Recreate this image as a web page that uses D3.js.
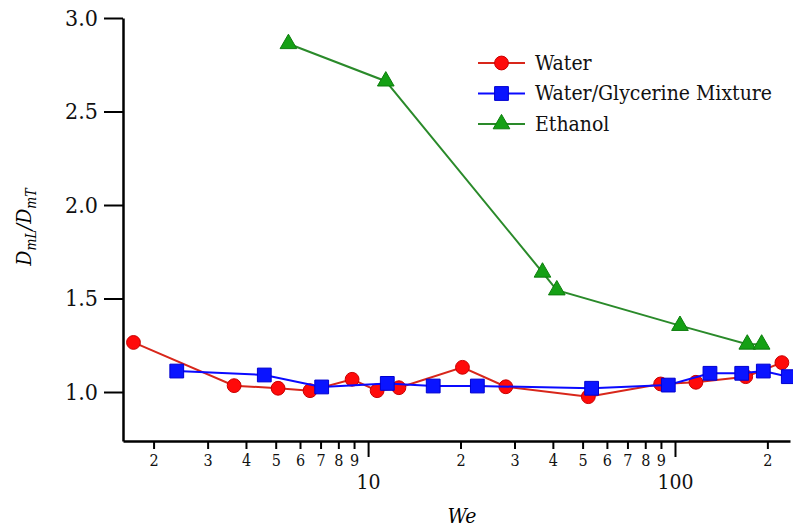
<!DOCTYPE html>
<html>
<head>
<meta charset="utf-8">
<script src="https://cdn.jsdelivr.net/npm/d3@7"></script>
<style>
  body { margin: 0; background: #fff; }
</style>
</head>
<body>
<div id="chart"></div>
<script>
"use strict";

// series: We number vs D_mL/D_mT
var waterWe   = [1.72, 3.66, 5.09, 6.47, 8.87, 10.7, 12.6, 20.3, 28.1, 52.2, 89.8, 117, 170, 223];
var waterD    = [1.265, 1.034, 1.02, 1.007, 1.068, 1.007, 1.023, 1.132, 1.028, 0.975, 1.043, 1.052, 1.082, 1.157];

var glycWe    = [2.38, 4.59, 7.06, 11.55, 16.3, 22.7, 53.5, 95.1, 130, 165, 194, 234];
var glycD     = [1.112, 1.091, 1.027, 1.046, 1.032, 1.032, 1.02, 1.037, 1.1, 1.1, 1.112, 1.082];

var ethWe     = [5.5, 11.42, 37.0, 41.2, 103.8, 172, 191.6];
var ethD      = [2.862, 2.662, 1.64, 1.545, 1.355, 1.255, 1.255];

var seriesNames = ["Water", "Water/Glycerine Mixture", "Ethanol"];
var yTicks = [1.0, 1.5, 2.0, 2.5, 3.0];
var xMinorTicks = [2, 3, 4, 5, 6, 7, 8, 9, 20, 30, 40, 50, 60, 70, 80, 90, 200];
var xMajorTicks = [10, 100];

(function () {
var width = 793, height = 531;
var plotLeft = 123, plotRight = 790, plotTop = 18, plotBottom = 441;
var serif = "DejaVu Serif Condensed, DejaVu Serif, serif";

var svg = d3.select("#chart").append("svg")
    .attr("width", width)
    .attr("height", height);

var x = d3.scaleLog().domain([1.59, 237]).range([plotLeft, plotRight]);
var y = d3.scaleLinear().domain([0.738, 3.0]).range([plotBottom, plotTop]);

// ------- axes
var yAxis = svg.append("g")
    .attr("transform", "translate(" + plotLeft + ",0)")
    .call(d3.axisLeft(y).tickValues(yTicks).tickFormat(d3.format(".1f"))
        .tickSize(19).tickSizeOuter(0).tickPadding(6));
yAxis.selectAll("text").attr("font-size", 23);

var xMinor = svg.append("g")
    .attr("transform", "translate(0," + plotBottom + ")")
    .call(d3.axisBottom(x).tickValues(xMinorTicks)
        .tickFormat(function(d){ return String(d).charAt(0); })
        .tickSize(8).tickSizeOuter(0).tickPadding(6));
xMinor.selectAll("text").attr("font-size", 16);

var xMajor = svg.append("g")
    .attr("transform", "translate(0," + plotBottom + ")")
    .call(d3.axisBottom(x).tickValues(xMajorTicks).tickFormat(d3.format("d"))
        .tickSize(16).tickSizeOuter(0).tickPadding(17));
xMajor.selectAll("text").attr("font-size", 21);
xMajor.select(".domain").remove();

svg.selectAll("g").attr("font-family", serif);
svg.selectAll(".tick text").attr("fill", "#111").attr("font-family", serif);
svg.selectAll(".domain").attr("stroke", "#000").attr("stroke-width", 2.5);
svg.selectAll(".tick line").attr("stroke", "#000").attr("stroke-width", 2);

// axis titles
svg.append("text")
    .attr("x", 462).attr("y", 523)
    .attr("text-anchor", "middle")
    .attr("font-family", serif)
    .attr("font-size", 21).attr("font-style", "italic")
    .text("We");

var yTitle = svg.append("text")
    .attr("transform", "translate(31,227) rotate(-90)")
    .attr("text-anchor", "middle")
    .attr("font-family", serif)
    .attr("font-size", 21).attr("font-style", "italic");
yTitle.append("tspan").text("D");
yTitle.append("tspan").attr("dy", 5).attr("font-size", 14).text("mL");
yTitle.append("tspan").attr("dy", -5).text("/D");
yTitle.append("tspan").attr("dy", 5).attr("font-size", 14).text("mT");

// ------- series
var series = [
    { name: seriesNames[0], we: waterWe, d: waterD, line: "#d8261a", fill: "#ff0a0a", stroke: "#c80000", shape: d3.symbolCircle, size: 150 },
    { name: seriesNames[1], we: glycWe, d: glycD, line: "#0a0aff", fill: "#0a14ff", stroke: "#0000d0", shape: d3.symbolSquare, size: 190 },
    { name: seriesNames[2], we: ethWe, d: ethD, line: "#2a8a2a", fill: "#15a015", stroke: "#0d7d0d", shape: d3.symbolTriangle, size: 120 }
];

var line = d3.line()
    .x(function(p){ return x(p[0]); })
    .y(function(p){ return y(p[1]); });

series.forEach(function(s){
    var pts = s.we.map(function(w, i){ return [w, s.d[i]]; });
    svg.append("path")
        .datum(pts)
        .attr("fill", "none")
        .attr("stroke", s.line)
        .attr("stroke-width", 2)
        .attr("d", line);
    svg.append("g").selectAll("path")
        .data(pts)
        .enter().append("path")
        .attr("d", d3.symbol().type(s.shape).size(s.size))
        .attr("transform", function(p){ return "translate(" + x(p[0]) + "," + y(p[1]) + ")"; })
        .attr("fill", s.fill)
        .attr("stroke", s.stroke)
        .attr("stroke-width", 1);
});

// ------- legend
var legend = svg.append("g").attr("transform", "translate(478,63)");
series.forEach(function(s, i){
    var row = legend.append("g").attr("transform", "translate(0," + (i * 30.5) + ")");
    row.append("line")
        .attr("x1", 0).attr("x2", 47)
        .attr("stroke", s.line).attr("stroke-width", 2);
    row.append("path")
        .attr("d", d3.symbol().type(s.shape).size(s.size))
        .attr("transform", "translate(23.5,0)")
        .attr("fill", s.fill).attr("stroke", s.stroke);
    row.append("text")
        .attr("x", 57).attr("dy", "0.33em")
        .attr("font-family", serif)
        .attr("font-size", 21)
        .attr("fill", "#111")
        .text(s.name);
});
})();
</script>
</body>
</html>
